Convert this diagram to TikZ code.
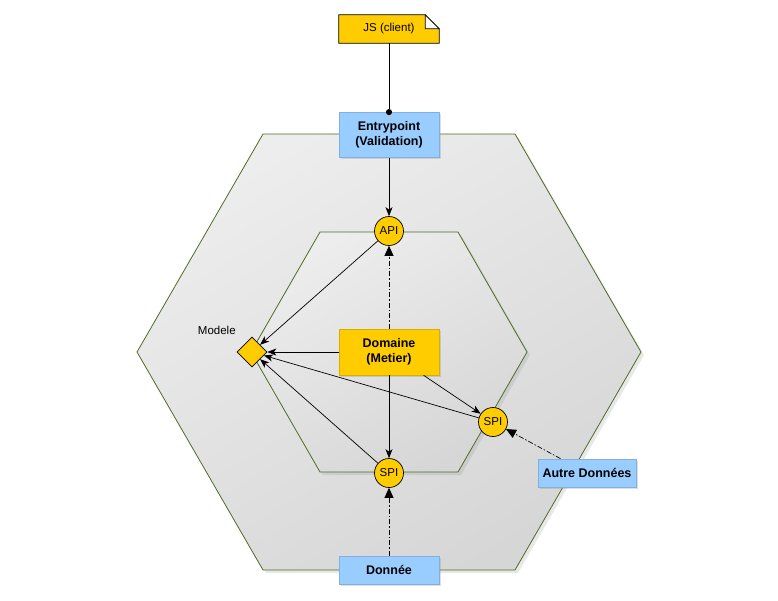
\documentclass[tikz,border=0pt]{standalone}
\usepackage{fontspec}
\setmainfont{Liberation Sans}
\usetikzlibrary{arrows.meta,shapes.geometric,shadows,backgrounds}

\definecolor{jsyellow}{HTML}{FFCC00}
\definecolor{boxblue}{HTML}{99CCFF}
\definecolor{boxblueline}{HTML}{7FB0E0}
\definecolor{hexline}{RGB}{78,108,38}
\definecolor{hexlight}{HTML}{EDEDED}
\definecolor{hexdark}{HTML}{D6D6D6}

\begin{document}
\begin{tikzpicture}[x=1pt, y=-1pt,
    every node/.style={font=\fontsize{11.5}{13}\selectfont},
    boldtext/.style={font=\bfseries\fontsize{12.5}{15}\selectfont, align=center},
    hexa/.style={draw=hexline, line width=0.8pt, top color=hexlight, bottom color=hexdark, shading angle=30,
        drop shadow={opacity=0.18, shadow xshift=3pt, shadow yshift=-3pt}},
    bluebox/.style={boldtext, fill=boxblue, draw=boxblueline, line width=0.8pt, inner sep=0pt,
        minimum width=100, minimum height=28,
        drop shadow={opacity=0.25, shadow xshift=1.5pt, shadow yshift=-1.5pt}},
    port/.style={circle, draw, fill=jsyellow, line width=0.7pt, minimum size=29, inner sep=0pt},
    uses/.style={-{Stealth[length=9pt,width=7pt,inset=2.5pt]}, line width=0.7pt},
    realize/.style={-{Triangle[length=10pt,width=9pt]}, line width=0.7pt, dash pattern=on 5pt off 2pt on 1.5pt off 2pt}]
    % image from (0,0) to (778,600), y axis points down

    \useasboundingbox (0,0) rectangle (778,600);

    % Hexagons
    \path[hexa] (263,134) -- (515,134) -- (641,352) -- (515,570) -- (263,570) -- (137,352) -- cycle; % outer
    \path[hexa] (320,232) -- (458,232) -- (527,352) -- (458,472) -- (320,472) -- (251,352) -- cycle; % inner

    % Client note
    \node[minimum width=100, minimum height=28, inner sep=0pt] (js) at (389,29) {JS (client)};
    \begin{scope}[on background layer]
        \filldraw[fill=jsyellow, line width=0.7pt] (js.south west) -- (js.north west) -- ([xshift=-14pt]js.north east)
            -- ([yshift=-14pt]js.north east) -- (js.south east) -- cycle;
        \filldraw[fill=white, line width=0.7pt] ([xshift=-14pt]js.north east) -- ([xshift=-14pt,yshift=-14pt]js.north east)
            -- ([yshift=-14pt]js.north east) -- cycle;
    \end{scope}

    % Boxes
    \node[bluebox, minimum height=45] (entry) at (389,135) {Entrypoint\\(Validation)};
    \node[boldtext, fill=jsyellow, draw=jsyellow!85!black, line width=0.6pt, inner sep=0pt,
        minimum width=100, minimum height=46,
        drop shadow={opacity=0.25, shadow xshift=1.5pt, shadow yshift=-1.5pt}] (domaine) at (389,352) {Domaine\\(Metier)};
    \node[bluebox, minimum width=98] (autre) at (587,473) {Autre Données};
    \node[bluebox] (donnee) at (389,570) {Donnée};

    % Ports
    \node[port] (api) at (389,231) {API};
    \node[port] (spiR) at (493,422) {SPI};
    \node[port] (spiB) at (389,473) {SPI};

    % Model
    \node[diamond, draw, fill=jsyellow, line width=0.7pt, minimum width=30, minimum height=30, inner sep=0pt,
        label={[label distance=3pt, xshift=-3pt, yshift=4pt]135:Modele}] (modele) at (252,352) {};

    % Links
    \draw[line width=0.7pt, -{Circle[length=6pt]}, shorten >=-3pt] (js) -- (entry);
    \draw[uses] (entry) -- (api);
    \draw[realize] (domaine) -- (api);
    \draw[uses] (api) -- (modele);
    \draw[uses] (domaine) -- (modele);
    \draw[uses] (domaine) -- (spiB);
    \draw[uses] (domaine) -- (spiR);
    \draw[uses] (spiR) -- (modele);
    \draw[uses] (spiB) -- (modele);
    \draw[realize] (donnee) -- (spiB);
    \draw[realize] (autre) -- (spiR);
\end{tikzpicture}
\end{document}
